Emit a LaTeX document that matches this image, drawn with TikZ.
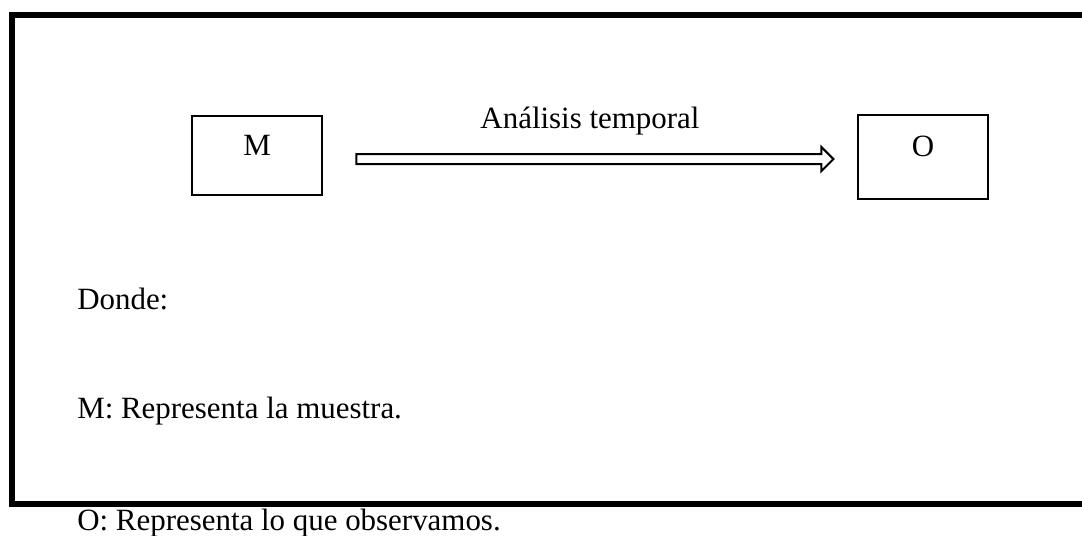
\documentclass[tikz,border=0pt]{standalone}
\usepackage{fontspec}
\setmainfont{Liberation Serif}
\usetikzlibrary{calc,shapes.arrows}

\begin{document}
\begin{tikzpicture}[font=\fontsize{22}{26}\selectfont,
  caja/.style={draw,rectangle,line width=0.5mm,minimum width=32.5mm,text height=5mm,text depth=5mm},
  texto/.style={inner sep=0,anchor=base west}]
\useasboundingbox (0,0) rectangle (270.5mm,-134mm);
\clip (0,0) rectangle (270.5mm,-134mm);
\draw node [draw,rectangle,line width=1.5mm,inner sep=0,outer sep=0,minimum width=272mm,minimum height=122.25mm,anchor=north west](marco) at (3mm,-3.75mm){};

\draw node [caja,minimum height=19.75mm](M) at ($ (marco.north west)+(61.25mm,-35.125mm)$){M};
\draw node [caja,minimum height=21mm](O) at ($ (marco.north west)+(227.75mm,-35.5mm)$){O};

\draw node [draw,single arrow,line width=0.5mm,minimum height=119.25mm,inner xsep=0,inner ysep=1mm,single arrow head extend=1.75mm](flecha) at ($ (M.east)!0.5!(O.west)+(0.6mm,-0.7mm)$){};
\draw node [inner sep=0,anchor=base](rotulo) at ($ (flecha.center)+(-0.6mm,7.75mm)$){Análisis temporal};

\draw node [texto](donde) at ($ (marco.north west)+(16.25mm,-73.5mm)$){Donde:};
\draw node [texto](leyM) at ($ (marco.north west)+(16.25mm,-100.75mm)$){M: Representa la muestra.};
\draw node [texto](leyO) at ($ (marco.north west)+(16.25mm,-128.75mm)$){O: Representa lo que observamos.};

\end{tikzpicture}
\end{document}
